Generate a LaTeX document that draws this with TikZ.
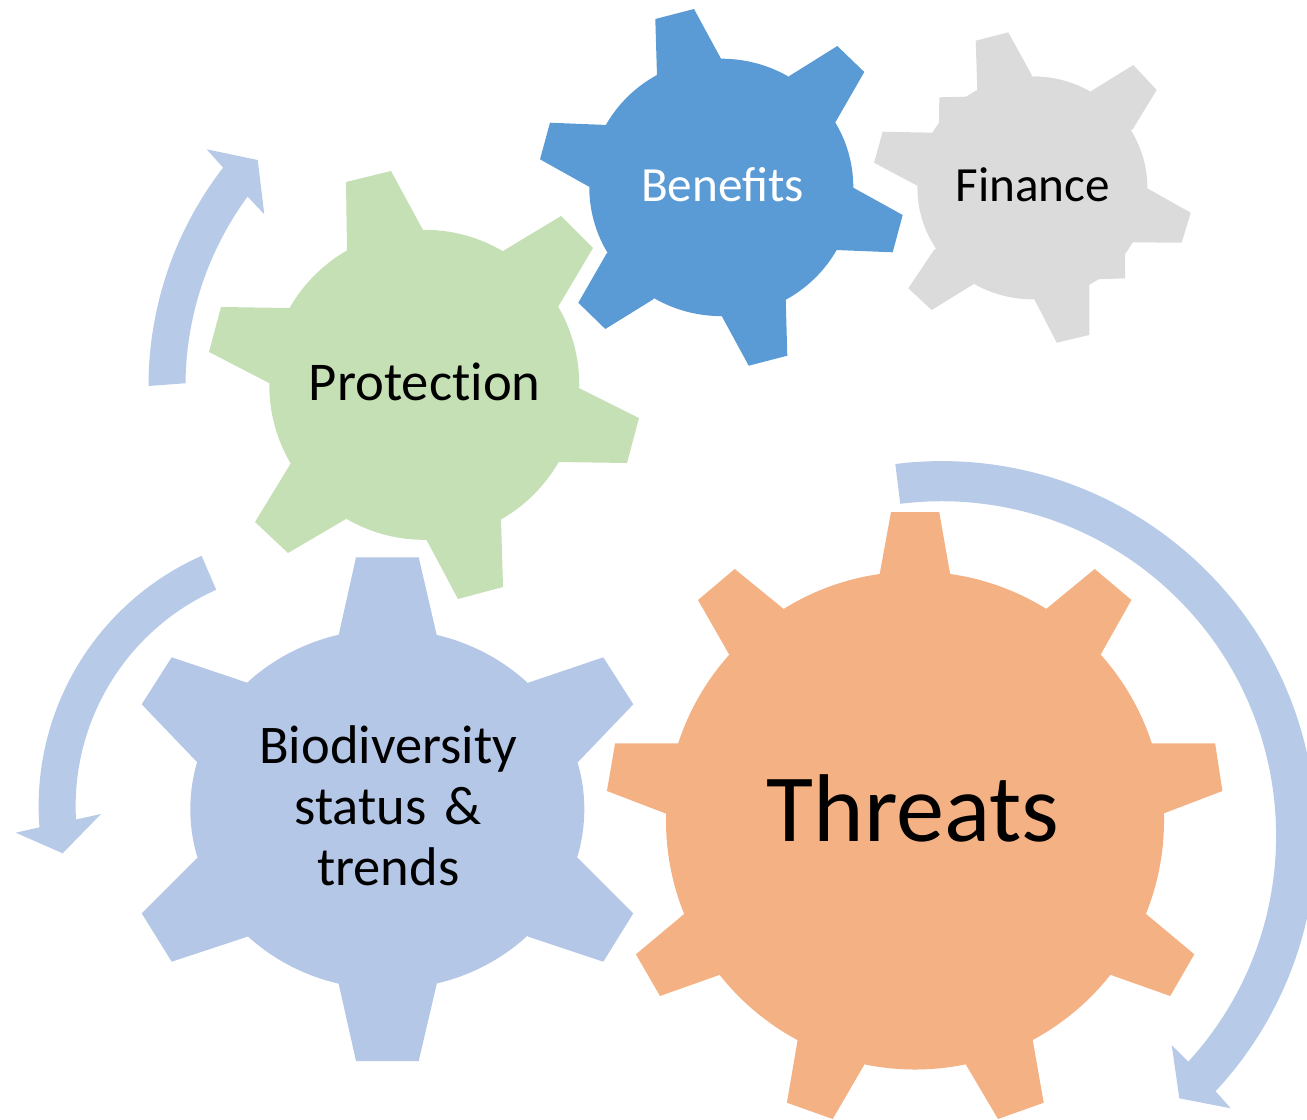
\documentclass[tikz,border=0pt]{standalone}
\usepackage{fontspec}
\setmainfont{Carlito}
\definecolor{protgreen}{HTML}{C5E0B4}
\definecolor{benblue}{HTML}{5B9BD5}
\definecolor{fingray}{HTML}{DBDBDB}
\definecolor{threatorange}{HTML}{F4B183}
\definecolor{bioblue}{HTML}{B4C7E7}
\definecolor{arrowblue}{HTML}{B7CBE8}
\begin{document}
\begin{tikzpicture}[x=0.02cm,y=-0.02cm,
  gearP/.style={fill=protgreen},
  gearB/.style={fill=benblue},
  gearF/.style={fill=fingray},
  gearT/.style={fill=threatorange},
  gearD/.style={fill=bioblue},
  arrowband/.style={fill=arrowblue},
  lbl/.style={anchor=base, inner sep=0pt, text=black}]
\useasboundingbox (0,0) rectangle (1307,1119);
\clip (0,0) rectangle (1307,1119);

% ---------- circular arrows ----------
\fill[arrowband] (148.5,386) arc[start angle=180,end angle=217.7,radius=357]
  -- (206.7,149.3) -- (257.7,160) -- (264.3,214.3) -- (247.6,196.6)
  arc[start angle=216.3,end angle=180.5,radius=320] -- cycle;
\fill[arrowband] (201.6,555.8) arc[start angle=246.1,end angle=175.6,radius=274]
  -- (15.7,832.7) -- (62.7,853.3) -- (101,814) -- (76,819.5)
  arc[start angle=176.8,end angle=246,radius=237] -- cycle;
\fill[arrowband] (895.3,464) arc[start angle=-97.1,end angle=43,radius=374.6]
  -- (1230.7,1108.3) -- (1179.3,1098.3) -- (1171.7,1045) -- (1188.2,1061.7)
  arc[start angle=42.5,end angle=-97.1,radius=334.5] -- cycle;

% ---------- Protection gear ----------
\coordinate (pc) at (424.25,384.8);
\fill[gearP] (pc) circle[radius=155];
\fill[gearP] (347,250) -- (346,182) -- (391,171) -- (423,230) -- (pc) -- cycle;
\fill[gearP] (503,251) -- (561,216) -- (593,248) -- (558,307) -- (pc) -- cycle;
\fill[gearP] (579,388) -- (639,418) -- (627,463) -- (558,462) -- (pc) -- cycle;
\fill[gearP] (501,519) -- (503,587) -- (458,599) -- (426,539) -- (pc) -- cycle;
\fill[gearP] (346,519) -- (288,553) -- (255,522) -- (291,463) -- (pc) -- cycle;
\fill[gearP] (269,383) -- (209,352) -- (221,307) -- (289,308) -- (pc) -- cycle;

% ---------- Benefits gear ----------
\coordinate (bc) at (721.3,187.4);
\fill[gearB] (bc) ellipse[x radius=132, y radius=128.7];
\fill[gearB] (657,76.3) -- (655.3,19) -- (694,9) -- (721,58.7) -- (bc) -- cycle;
\fill[gearB] (789.3,76) -- (837.3,46) -- (864.3,72) -- (835.7,121.7) -- (bc) -- cycle;
\fill[gearB] (853.3,187.7) -- (902.7,215) -- (892.7,252.3) -- (835.7,250) -- (bc) -- cycle;
\fill[gearB] (785.7,299) -- (787.3,355.7) -- (748.7,365.7) -- (721.7,316) -- (bc) -- cycle;
\fill[gearB] (653.3,299.3) -- (605.3,329) -- (578.3,302.7) -- (606.7,253.3) -- (bc) -- cycle;
\fill[gearB] (589,186.7) -- (540,159.3) -- (550,122.7) -- (607,125) -- (bc) -- cycle;

% ---------- Finance gear ----------
\coordinate (fc) at (1032.4,187.8);
\fill[gearF] (fc) ellipse[x radius=115, y radius=111.5];
\fill[gearF] (977.3,90.7) -- (975.7,40.7) -- (1008.3,32.3) -- (1031.7,75) -- (fc) -- cycle;
\fill[gearF] (1091.7,90.7) -- (1133.3,65) -- (1156.7,90) -- (1132.7,129.3) -- (fc) -- cycle;
\fill[gearF] (1147.3,188.3) -- (1190.7,212.7) -- (1181.7,242.7) -- (1131,242.3) -- (fc) -- cycle;
\fill[gearF] (1089.3,284.3) -- (1089.3,335) -- (1056.7,342.7) -- (1033.3,297.3) -- (fc) -- cycle;
\fill[gearF] (973.3,284.3) -- (931.7,310) -- (908.3,288.3) -- (934,250) -- (fc) -- cycle;
\fill[gearF] (917.3,185.7) -- (874,162.7) -- (882.7,131.7) -- (932.7,132.7) -- (fc) -- cycle;
\fill[gearF] (977.3,90.7) -- (966.7,96.7) -- (939.3,97.3) -- (939,124.3) -- (932.7,132.7) -- (fc) -- cycle;
\fill[gearF] (1131,242.3) -- (1125,250) -- (1125,278.3) -- (1098.3,279.3) -- (1089.3,284.3) -- (fc) -- cycle;

% ---------- Biodiversity gear ----------
\coordinate (dc) at (387.3,809.2);
\fill[gearD] (dc) ellipse[x radius=197, y radius=180];
\fill[gearD] (338.7,635) -- (356,557.3) -- (418.7,557.3) -- (436.7,635) -- (dc) -- cycle;
\fill[gearD] (528.3,682.7) -- (603.3,657.3) -- (633.3,704.3) -- (578.3,761.7) -- (dc) -- cycle;
\fill[gearD] (578.3,858.3) -- (633.3,913.3) -- (603.3,961.7) -- (528.3,936.7) -- (dc) -- cycle;
\fill[gearD] (436.7,984) -- (418.7,1061) -- (356,1061) -- (338.7,984) -- (dc) -- cycle;
\fill[gearD] (247.3,936.7) -- (171.7,961.7) -- (141.7,913.3) -- (196.7,858.3) -- (dc) -- cycle;
\fill[gearD] (196.7,761.7) -- (141.7,704.3) -- (171.7,657.3) -- (247.3,682.7) -- (dc) -- cycle;

% ---------- Threats gear ----------
\coordinate (tc) at (915,820.5);
\fill[gearT] (tc) circle[radius=249];
\fill[gearT] (879.6,574.3) -- (891,512) -- (939.2,512) -- (950.2,574.3) -- (tc) -- cycle;
\fill[gearT] (1046.1,609) -- (1094.7,569) -- (1131.4,600) -- (1100.8,654.3) -- (tc) -- cycle;
\fill[gearT] (1151.8,743.3) -- (1215.1,743.3) -- (1222.4,791) -- (1164,813.3) -- (tc) -- cycle;
\fill[gearT] (1146.1,914) -- (1194.3,954.3) -- (1170.2,996) -- (1111,975) -- (tc) -- cycle;
\fill[gearT] (1032.7,1040) -- (1043.7,1102.7) -- (998,1119) -- (966.1,1065) -- (tc) -- cycle;
\fill[gearT] (864.1,1065) -- (832.7,1119) -- (786.9,1102.7) -- (797.6,1040) -- (tc) -- cycle;
\fill[gearT] (719.2,975) -- (660,996) -- (635.9,954.3) -- (684.1,914) -- (tc) -- cycle;
\fill[gearT] (665.3,813.3) -- (606.9,791) -- (615.1,743.3) -- (678.4,743.3) -- (tc) -- cycle;
\fill[gearT] (729,654.3) -- (698,600) -- (734.7,569) -- (783.7,609) -- (tc) -- cycle;

% ---------- labels ----------
\node[lbl, font=\fontsize{54.8pt}{60pt}\selectfont] (threats) at (913,841.7) {Threats};
\node[lbl, font=\fontsize{31.1pt}{36pt}\selectfont] (protection) at (424.7,400) {Protect\kern0pt ion};
\node[lbl, text=white, font=\fontsize{28pt}{34pt}\selectfont] (benefits) at (722.5,201) {Benefits};
\node[lbl, font=\fontsize{28pt}{34pt}\selectfont] (finance) at (1032.7,201.7) {Finance};
\node[lbl, align=center, text width=8cm, font=\fontsize{31pt}{34.9pt}\selectfont] (bio) at (388.3,763.3) {Biodiversity\\status \&\\trends};
\end{tikzpicture}
\end{document}
